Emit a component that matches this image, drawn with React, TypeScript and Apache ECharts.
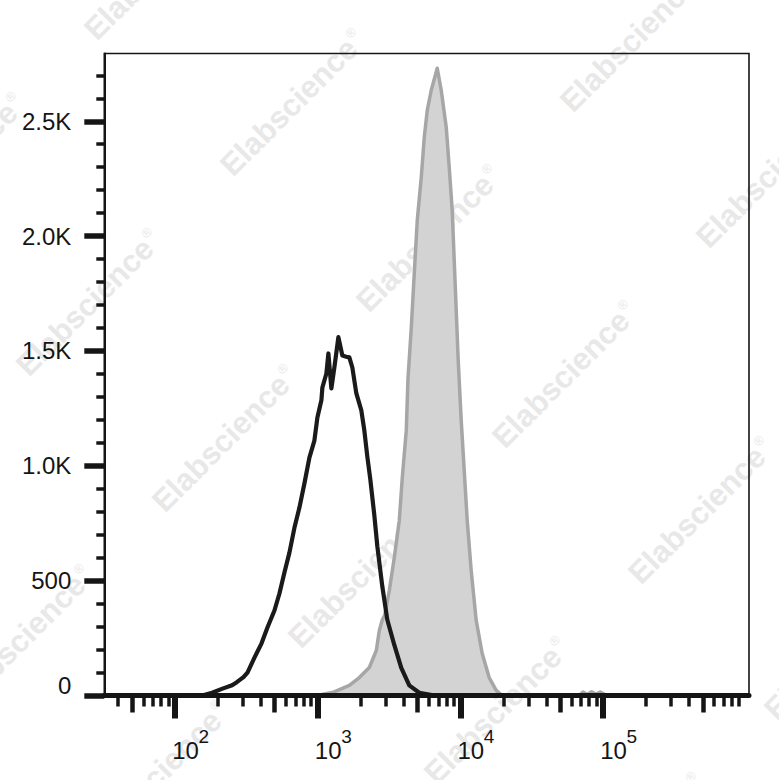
import React, { useEffect, useRef } from "react";
import * as echarts from "echarts";

// ---- axis definitions ----
const yMajorTicks = [0, 500, 1000, 1500, 2000, 2500];
const yMinorTicks = [
  100, 200, 300, 400, 600, 700, 800, 900, 1100, 1200, 1300, 1400, 1600, 1700,
  1800, 1900, 2100, 2200, 2300, 2400, 2600, 2700,
];
const yMax = 2795;
// x axis is in log10(fluorescence) units
const xLogMin = 1.5045;
const xLogMax = 6.023;
const xLabelDecades = [2, 3, 4, 5];
const xLabelBase = "10";
const tickDecades = [1, 2, 3, 4, 5];
const minorMultipliers = [2, 3, 4, 6, 7, 8, 9];
const midMultipliers = [5];

// ---- histogram data (log10 intensity, event count) ----
const grayLogX = [
  2.95, 3.012, 3.103, 3.222, 3.292, 3.362, 3.411, 3.432, 3.453, 3.47, 3.502,
  3.537, 3.572, 3.593, 3.621, 3.633, 3.656, 3.677, 3.698, 3.726, 3.747, 3.768,
  3.796, 3.838, 3.866, 3.901, 3.922, 3.943, 3.957, 3.971, 3.985, 4.006, 4.027,
  4.048, 4.076, 4.111, 4.153, 4.202, 4.251, 4.293, 4.4, 4.83, 4.86, 4.89, 4.92,
  4.95, 4.98, 5.01, 5.04, 5.1,
];
const grayCounts = [
  0, 2, 13, 44, 78, 122, 196, 283, 330, 350, 457, 601, 762, 949, 1154, 1380,
  1600, 1838, 2069, 2256, 2430, 2548, 2635, 2731, 2635, 2474, 2299, 2112, 1894,
  1677, 1459, 1198, 980, 762, 544, 327, 183, 78, 22, 0, 0, 0, 15, 4, 16, 6, 15,
  5, 0, 0,
];

const blackLogX = [
  2.1, 2.19, 2.26, 2.333, 2.4, 2.431, 2.48, 2.508, 2.557, 2.606, 2.648, 2.697,
  2.732, 2.767, 2.802, 2.837, 2.872, 2.907, 2.942, 2.977, 2.998, 3.026, 3.033,
  3.061, 3.075, 3.096, 3.117, 3.145, 3.173, 3.2, 3.222, 3.243, 3.271, 3.306,
  3.327, 3.348, 3.369, 3.397, 3.418, 3.453, 3.488, 3.537, 3.586, 3.642, 3.712,
  3.8, 3.85, 4.0,
];
const blackCounts = [
  0, 0, 12, 30, 45, 57, 80, 100, 165, 226, 296, 370, 444, 535, 622, 730, 818,
  923, 1036, 1110, 1210, 1285, 1341, 1402, 1489, 1337, 1428, 1560, 1480, 1475,
  1472, 1428, 1315, 1241, 1154, 1040, 940, 785, 650, 475, 330, 220, 120, 44, 12,
  2, 0, 0,
];

const FONT = "'Liberation Sans', Arial, Helvetica, sans-serif";
const INK = "#151515";

function decadeTicks(mults: number[]) {
  const out: number[] = [];
  tickDecades.forEach((d) =>
    mults.forEach((m) => {
      const v = Math.log10(m * Math.pow(10, d));
      if (v > xLogMin && v < xLogMax) out.push(v);
    })
  );
  return out;
}

function watermarks() {
  const els: any[] = [];
  for (let j = -1; j <= 2; j++) {
    for (let i = -1; i <= 4; i++) {
      const cx = 293 + 136 * i - 204 * j;
      const cy = 103 + 136 * i + 200 * j;
      if (cx < -90 || cx > 870 || cy < -90 || cy > 870) continue;
      els.push({
        type: "text",
        x: cx,
        y: cy,
        rotation: Math.PI / 4,
        z: -10,
        silent: true,
        style: {
          text: "{w|Elabscience}{r|®}",
          align: "center",
          verticalAlign: "middle",
          rich: {
            w: {
              fontSize: 31,
              fontWeight: "bold",
              fontFamily: FONT,
              fill: "#e8e8e8",
            },
            r: {
              fontSize: 13,
              fontFamily: FONT,
              fill: "#e8e8e8",
              verticalAlign: "top",
              padding: [0, 0, 14, 2],
            },
          },
        },
      });
    }
  }
  return els;
}

export default function App() {
  const ref = useRef<HTMLDivElement>(null);
  useEffect(() => {
    if (!ref.current) return;
    const chart = echarts.init(ref.current, undefined, { renderer: "svg" });
    const xBase = {
      type: "value",
      min: xLogMin,
      max: xLogMax,
      position: "bottom",
      gridIndex: 0,
      splitLine: { show: false },
    };
    const yBase = {
      type: "value",
      min: 0,
      max: yMax,
      position: "left",
      gridIndex: 0,
      splitLine: { show: false },
    };
    const option: any = {
      animation: false,
      backgroundColor: "#ffffff",
      graphic: watermarks(),
      grid: {
        left: 104.3,
        top: 53.5,
        right: 30,
        bottom: 84.5,
        containLabel: false,
        outerBoundsMode: "none",
        show: true,
        borderColor: INK,
        borderWidth: 1.6,
        backgroundColor: "transparent",
      },
      xAxis: [
        {
          ...xBase,
          z: 10,
          axisLine: { show: true, onZero: false, lineStyle: { color: INK, width: 5 } },
          axisTick: {
            show: true,
            customValues: xLabelDecades,
            length: 23,
            lineStyle: { color: INK, width: 6 },
          },
          axisLabel: {
            show: true,
            customValues: xLabelDecades,
            align: "center",
            verticalAlign: "top",
            padding: [0, 0, 0, 21],
            margin: 43,
            fontSize: 24,
            fontFamily: FONT,
            color: INK,
            formatter: () => xLabelBase,
          },
        },
        {
          // exponent of each decade label (superscript)
          ...xBase,
          z: 10,
          axisLine: { show: false, onZero: false },
          axisTick: { show: false },
          axisLabel: {
            show: true,
            customValues: xLabelDecades,
            align: "left",
            verticalAlign: "top",
            padding: [0, 0, 0, 23.5],
            margin: 31.5,
            fontSize: 19,
            fontFamily: FONT,
            color: INK,
            formatter: (v: number) => String(Math.round(v)),
          },
        },
        {
          ...xBase,
          z: 10,
          axisLine: { show: false, onZero: false },
          axisTick: {
            show: true,
            customValues: decadeTicks(minorMultipliers),
            length: 11,
            lineStyle: { color: INK, width: 3.5 },
          },
          axisLabel: { show: false },
        },
        {
          ...xBase,
          z: 10,
          axisLine: { show: false, onZero: false },
          axisTick: {
            show: true,
            customValues: decadeTicks(midMultipliers),
            length: 17,
            lineStyle: { color: INK, width: 4.5 },
          },
          axisLabel: { show: false },
        },
      ],
      yAxis: [
        {
          ...yBase,
          z: 10,
          axisLine: { show: true, onZero: false, lineStyle: { color: INK, width: 2 } },
          axisTick: {
            show: true,
            customValues: yMajorTicks,
            length: 20,
            lineStyle: { color: INK, width: 5.5 },
          },
          axisLabel: {
            show: true,
            customValues: yMajorTicks,
            margin: 33,
            fontSize: 24,
            fontFamily: FONT,
            color: INK,
            formatter: (v: number) =>
              v === 0 ? "{z|0}" : v >= 1000 ? (v / 1000).toFixed(1) + "K" : String(v),
            rich: {
              z: {
                fontSize: 24,
                fontFamily: FONT,
                color: INK,
                padding: [0, 0, 20, 0],
              },
            },
          },
        },
        {
          ...yBase,
          z: 10,
          axisLine: { show: false, onZero: false },
          axisTick: {
            show: true,
            customValues: yMinorTicks,
            length: 8,
            lineStyle: { color: INK, width: 3.5 },
          },
          axisLabel: { show: false },
        },
      ],
      series: [
        {
          type: "line",
          xAxisIndex: 0,
          yAxisIndex: 0,
          data: grayLogX.map((x, i) => [x, grayCounts[i]]),
          showSymbol: false,
          symbol: "none",
          smooth: false,
          lineStyle: { color: "#a6a6a6", width: 3.5, join: "round" },
          areaStyle: { color: "#d3d3d3", opacity: 1 },
          z: 2,
        },
        {
          type: "line",
          xAxisIndex: 0,
          yAxisIndex: 0,
          data: blackLogX.map((x, i) => [x, blackCounts[i]]),
          showSymbol: false,
          symbol: "none",
          smooth: false,
          lineStyle: { color: "#1a1a1a", width: 4.2, join: "round" },
          z: 3,
        },
      ],
    };
    chart.setOption(option);
    return () => chart.dispose();
  }, []);
  return (
    <div
      ref={ref}
      style={{
        position: "fixed",
        left: 0,
        top: 0,
        width: 779,
        height: 780,
        background: "#fff",
      }}
    />
  );
}
